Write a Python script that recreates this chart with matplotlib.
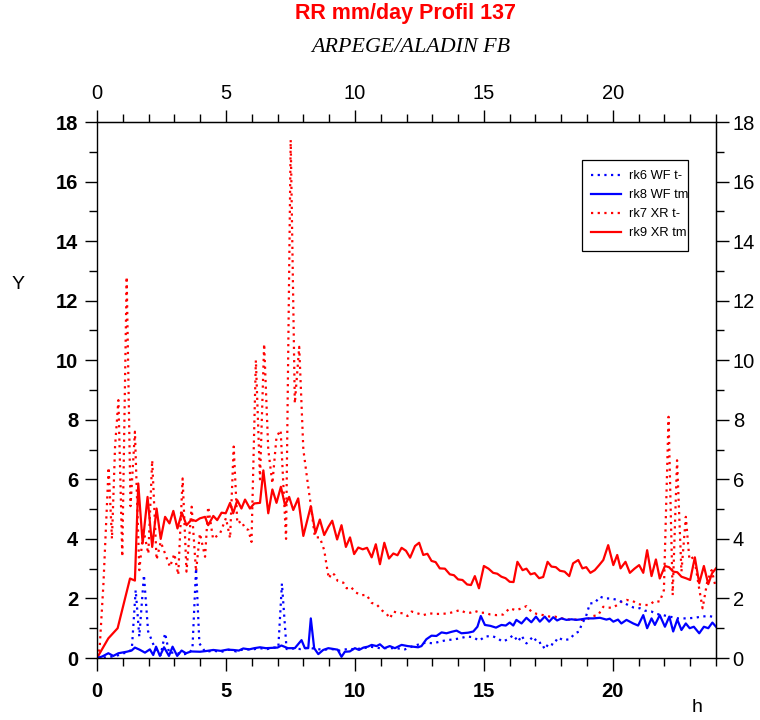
import matplotlib
matplotlib.use("Agg")
import matplotlib.pyplot as plt
from matplotlib.ticker import MultipleLocator
from matplotlib.lines import Line2D
from matplotlib.patches import Rectangle

# ---------------- data ----------------
title = "RR mm/day Profil 137"
subtitle = "ARPEGE/ALADIN FB"
x_label = "h"
y_label = "Y"
legend_labels = ["rk6 WF t-", "rk8 WF tm", "rk7 XR t-", "rk9 XR tm"]

# rk9 XR tm (red solid)
rk9_h = [0, 0.44, 0.8, 1.28, 1.47, 1.6, 1.77, 1.96, 2.14, 2.31,
         2.47, 2.64, 2.81, 2.96, 3.12, 3.29, 3.47, 3.67, 3.83, 3.99,
         4.19, 4.31, 4.51, 4.66, 4.83, 4.99, 5.16, 5.28, 5.44, 5.6,
         5.74, 5.93, 6.1, 6.32, 6.45, 6.64, 6.8, 6.96, 7.13, 7.29,
         7.45, 7.61, 7.8, 8.0, 8.29, 8.47, 8.64, 8.81, 8.97, 9.12,
         9.31, 9.48, 9.65, 9.81, 9.97, 10.13, 10.3, 10.47, 10.65, 10.81,
         10.97, 11.14, 11.32, 11.49, 11.65, 11.81, 11.98, 12.14, 12.33, 12.49,
         12.65, 12.81, 12.97, 13.13, 13.29, 13.49, 13.68, 13.84, 14.0, 14.17,
         14.35, 14.5, 14.65, 14.81, 15.0, 15.18, 15.36, 15.52, 15.68, 15.84,
         16.0, 16.15, 16.3, 16.5, 16.65, 16.81, 16.97, 17.14, 17.3, 17.47,
         17.62, 17.79, 17.95, 18.13, 18.31, 18.46, 18.66, 18.82, 18.97, 19.13,
         19.3, 19.47, 19.63, 19.82, 20.02, 20.17, 20.3, 20.49, 20.66, 20.84,
         21.02, 21.18, 21.33, 21.5, 21.67, 21.82, 22.02, 22.18, 22.34, 22.5,
         22.66, 22.83, 23.0, 23.18, 23.35, 23.53, 23.7, 23.85, 24.0]
rk9_v = [0, 0.66, 1.0, 2.67, 2.6, 5.86, 3.85, 5.41, 3.73, 5.02,
         4.0, 4.74, 4.52, 4.94, 4.35, 4.88, 4.46, 4.65, 4.6, 4.69,
         4.74, 4.46, 4.77, 4.63, 4.88, 4.86, 5.21, 4.86, 5.3, 5.02,
         5.32, 5.02, 5.19, 5.21, 6.3, 4.86, 5.66, 5.21, 5.75, 5.13,
         5.41, 4.97, 5.36, 4.1, 5.1, 4.2, 4.65, 4.13, 4.4, 4.61,
         3.98, 4.46, 3.73, 4.05, 3.49, 3.71, 3.65, 3.7, 3.38, 3.82,
         3.15, 3.87, 3.34, 3.51, 3.45, 3.7, 3.6, 3.37, 3.76, 3.87,
         3.46, 3.5, 3.26, 3.22, 3.01, 3.0, 2.81, 2.78, 2.64, 2.62,
         2.47, 2.45, 2.75, 2.34, 3.09, 3.0, 2.86, 2.83, 2.73, 2.68,
         2.56, 2.55, 3.23, 2.95, 3.0, 2.81, 2.85, 2.68, 2.72, 3.23,
         3.07, 3.05, 2.93, 2.9, 2.75, 3.18, 3.29, 3.01, 3.05, 2.86,
         2.95, 3.12, 3.29, 3.79, 3.12, 3.46, 3.01, 3.23, 2.86, 3.0,
         3.12, 2.86, 3.62, 2.75, 3.31, 2.67, 3.09, 3.05, 2.9, 2.88,
         2.73, 2.68, 2.62, 3.38, 2.51, 3.09, 2.48, 2.85, 3.01]

# rk7 XR t- (red dotted)
rk7_h = [0, 0.1, 0.25, 0.45, 0.58, 0.7, 0.83, 0.98, 1.15, 1.3,
         1.47, 1.64, 1.8, 1.99, 2.14, 2.31, 2.47, 2.64, 2.83, 3.0,
         3.15, 3.32, 3.47, 3.67, 3.84, 3.99, 4.19, 4.31, 4.5, 4.77,
         5.0, 5.16, 5.3, 5.44, 5.6, 5.74, 5.87, 5.99, 6.16, 6.32,
         6.48, 6.64, 6.8, 6.96, 7.12, 7.33, 7.51, 7.67, 7.84, 8.0,
         8.19, 8.29, 8.45, 8.64, 8.81, 8.9, 8.99, 9.1, 9.2, 9.33,
         9.55, 9.68, 9.84, 10.03, 10.26, 10.45, 10.65, 10.84, 11.06, 11.23,
         11.36, 11.49, 11.65, 11.87, 12.04, 12.2, 12.43, 12.65, 12.9, 13.1,
         13.35, 13.62, 13.85, 14.07, 14.3, 14.47, 14.65, 14.85, 15.04, 15.25,
         15.49, 15.75, 16.0, 16.25, 16.46, 16.65, 16.84, 17.05, 17.3, 17.56,
         17.75, 17.95, 18.14, 18.33, 18.59, 18.78, 18.98, 19.24, 19.43, 19.63,
         19.82, 20.0, 20.17, 20.33, 20.53, 20.76, 20.98, 21.18, 21.41, 21.63,
         21.82, 21.98, 22.16, 22.32, 22.49, 22.66, 22.83, 22.97, 23.15, 23.33,
         23.48, 23.66, 23.83, 24.0]
rk7_v = [0, 0.3, 2.5, 6.4, 4.0, 7.1, 8.66, 3.4, 12.8, 5.1,
         7.6, 2.95, 4.3, 3.5, 6.64, 3.3, 3.9, 3.5, 3.06, 3.5,
         2.79, 6.03, 2.9, 5.08, 2.9, 4.18, 3.4, 5.08, 4.0, 4.18,
         4.7, 4.02, 7.1, 4.52, 4.6, 4.35, 4.3, 3.9, 10.0, 6.0,
         10.55, 7.0, 5.86, 7.43, 7.65, 4.0, 17.4, 8.55, 10.45, 7.0,
         5.75, 5.13, 4.05, 4.05, 3.62, 3.12, 2.67, 2.86, 2.8, 2.59,
         2.53, 2.34, 2.39, 2.2, 2.11, 2.12, 1.85, 1.8, 1.59, 1.48,
         1.33, 1.56, 1.52, 1.5, 1.41, 1.56, 1.5, 1.44, 1.5, 1.48,
         1.48, 1.5, 1.55, 1.61, 1.52, 1.52, 1.58, 1.52, 1.52, 1.46,
         1.44, 1.46, 1.67, 1.6, 1.67, 1.74, 1.56, 1.48, 1.44, 1.39,
         1.39, 1.35, 1.31, 1.29, 1.29, 1.28, 1.29, 1.41, 1.44, 1.72,
         1.69, 1.69, 1.78, 1.89, 1.95, 1.92, 1.81, 1.78, 1.78, 1.92,
         1.89, 2.28, 8.1, 2.11, 6.64, 2.9, 4.74, 3.3, 3.4, 2.42,
         1.67, 2.56, 2.95, 2.34]

# rk8 WF tm (blue solid)
rk8_h = [0, 0.2, 0.44, 0.63, 0.83, 1.15, 1.34, 1.47, 1.65, 1.86,
         2.05, 2.18, 2.29, 2.44, 2.6, 2.79, 2.93, 3.11, 3.28, 3.45,
         3.65, 3.99, 4.2, 4.51, 4.8, 5.05, 5.28, 5.5, 5.67, 5.9,
         6.1, 6.32, 6.55, 6.8, 7.0, 7.15, 7.4, 7.67, 7.93, 8.06,
         8.19, 8.29, 8.42, 8.58, 8.77, 8.97, 9.2, 9.33, 9.48, 9.61,
         9.8, 10.0, 10.16, 10.33, 10.5, 10.65, 10.84, 10.97, 11.14, 11.35,
         11.55, 11.81, 12.05, 12.26, 12.45, 12.58, 12.77, 12.97, 13.16, 13.36,
         13.55, 13.75, 13.94, 14.13, 14.39, 14.59, 14.75, 14.88, 15.04, 15.25,
         15.47, 15.68, 15.85, 16.0, 16.14, 16.26, 16.46, 16.65, 16.84, 17.02,
         17.17, 17.36, 17.53, 17.69, 17.84, 18.01, 18.2, 18.4, 18.59, 18.78,
         18.98, 19.24, 19.5, 19.75, 19.88, 20.02, 20.2, 20.33, 20.53, 20.79,
         20.98, 21.18, 21.33, 21.5, 21.63, 21.82, 22.02, 22.19, 22.34, 22.5,
         22.66, 22.83, 22.98, 23.14, 23.35, 23.53, 23.7, 23.86, 24.0]
rk8_v = [0, 0.05, 0.16, 0.07, 0.16, 0.21, 0.25, 0.35, 0.28, 0.18,
         0.29, 0.1, 0.38, 0.07, 0.36, 0.07, 0.38, 0.07, 0.25, 0.16,
         0.22, 0.21, 0.23, 0.27, 0.24, 0.28, 0.27, 0.25, 0.32, 0.29,
         0.33, 0.36, 0.33, 0.34, 0.35, 0.42, 0.33, 0.33, 0.6, 0.33,
         0.33, 1.33, 0.33, 0.13, 0.27, 0.33, 0.3, 0.28, 0.04, 0.21,
         0.22, 0.33, 0.27, 0.35, 0.38, 0.44, 0.4, 0.46, 0.33, 0.4,
         0.33, 0.44, 0.4, 0.38, 0.36, 0.4, 0.63, 0.75, 0.74, 0.86,
         0.83, 0.88, 0.92, 0.83, 0.85, 0.89, 1.05, 1.41, 1.11, 1.08,
         1.02, 1.11, 1.09, 1.19, 1.09, 1.28, 1.16, 1.35, 1.2, 1.39,
         1.22, 1.39, 1.22, 1.37, 1.26, 1.33, 1.28, 1.3, 1.28, 1.3,
         1.33, 1.33, 1.35, 1.29, 1.32, 1.22, 1.29, 1.16, 1.28, 1.16,
         1.09, 1.44, 1.0, 1.33, 1.11, 1.44, 1.05, 1.39, 0.89, 1.29,
         0.94, 1.16, 1.0, 1.05, 0.83, 1.05, 1.0, 1.19, 1.05]

# rk6 WF t- (blue dotted)
rk6_h = [0, 0.3, 0.6, 0.85, 1.02, 1.2, 1.35, 1.5, 1.64, 1.82,
         1.98, 2.12, 2.3, 2.47, 2.64, 2.8, 3.0, 3.3, 3.55, 3.7,
         3.84, 3.97, 4.2, 4.5, 4.8, 5.1, 5.4, 5.7, 6.0, 6.3,
         6.6, 6.85, 7.03, 7.17, 7.35, 7.6, 7.9, 8.2, 8.5, 8.8,
         9.1, 9.4, 9.7, 10.0, 10.3, 10.6, 10.97, 11.3, 11.6, 11.94,
         12.2, 12.49, 12.77, 13.03, 13.29, 13.55, 13.8, 14.07, 14.33, 14.58,
         14.82, 15.04, 15.3, 15.5, 15.72, 15.94, 16.14, 16.33, 16.46, 16.65,
         16.91, 17.1, 17.23, 17.36, 17.52, 17.69, 17.88, 18.07, 18.33, 18.53,
         18.7, 18.78, 18.95, 19.11, 19.3, 19.5, 19.69, 19.9, 20.14, 20.33,
         20.59, 20.79, 21.05, 21.24, 21.5, 21.69, 21.94, 22.2, 22.53, 22.85,
         23.18, 23.43, 23.7, 24.0]
rk6_v = [0, 0.02, 0.05, 0.1, 0.16, 0.18, 0.3, 2.28, 0.72, 2.79,
         0.9, 0.6, 0.2, 0.1, 0.83, 0.15, 0.2, 0.12, 0.15, 0.3,
         3.01, 0.49, 0.2, 0.25, 0.2, 0.28, 0.22, 0.3, 0.28, 0.33,
         0.3, 0.35, 0.35, 2.5, 0.3, 0.32, 0.3, 0.35, 0.3, 0.28,
         0.3, 0.25, 0.3, 0.3, 0.32, 0.38, 0.33, 0.33, 0.33, 0.29,
         0.38, 0.46, 0.52, 0.49, 0.55, 0.6, 0.62, 0.66, 0.72, 0.7,
         0.58, 0.72, 0.74, 0.68, 0.55, 0.63, 0.77, 0.55, 0.75, 0.49,
         0.72, 0.49, 0.52, 0.29, 0.5, 0.44, 0.69, 0.6, 0.63, 0.83,
         0.89, 1.11, 1.37, 1.83, 1.85, 2.06, 2.0, 2.0, 1.96, 1.89,
         1.78, 1.7, 1.67, 1.59, 1.56, 1.48, 1.44, 1.39, 1.33, 1.33,
         1.35, 1.39, 1.41, 1.37]

x_ticks = [0, 5, 10, 15, 20]
y_ticks = [0, 2, 4, 6, 8, 10, 12, 14, 16, 18]

# ---------------- figure ----------------
RED = "#ff0000"
BLUE = "#0000ff"
DOT = (0, (1, 2))

W, H = 760, 720
fig = plt.figure(figsize=(7.6, 7.2), dpi=100)
ax = fig.add_axes([97 / W, 62 / H, 619 / W, 536 / H])

lw = 1.6
ax.plot(rk7_h, rk7_v, color=RED, lw=lw, linestyle=DOT)
ax.plot(rk9_h, rk9_v, color=RED, lw=lw, linestyle="-")
ax.plot(rk6_h, rk6_v, color=BLUE, lw=lw, linestyle=DOT)
ax.plot(rk8_h, rk8_v, color=BLUE, lw=lw, linestyle="-")

ax.set_xlim(0, 24)
ax.set_ylim(0, 18)

sans = ["Liberation Sans", "DejaVu Sans"]
tick_fs = 14.5

ax.set_xticks(x_ticks)
ax.set_yticks(y_ticks)
ax.xaxis.set_minor_locator(MultipleLocator(1))
ax.yaxis.set_minor_locator(MultipleLocator(1))
ax.tick_params(axis="both", which="major", direction="out", length=9, width=1,
               labelsize=tick_fs)
ax.tick_params(axis="x", which="major", pad=8)
ax.tick_params(axis="y", which="major", pad=4.5)
ax.tick_params(axis="both", which="minor", direction="out", length=6, width=1)
for lab in ax.get_xticklabels() + ax.get_yticklabels():
    lab.set_fontweight("bold")
    lab.set_family(sans)

secx = ax.secondary_xaxis("top")
secx.set_xticks(x_ticks)
secx.xaxis.set_minor_locator(MultipleLocator(1))
secx.tick_params(which="major", direction="out", length=9, width=1,
                 labelsize=tick_fs, pad=4.5)
secx.tick_params(which="minor", direction="out", length=6, width=1)
for lab in secx.get_xticklabels():
    lab.set_family(sans)

secy = ax.secondary_yaxis("right")
secy.set_yticks(y_ticks)
secy.yaxis.set_minor_locator(MultipleLocator(1))
secy.tick_params(which="major", direction="out", length=9, width=1,
                 labelsize=tick_fs, pad=3)
secy.tick_params(which="minor", direction="out", length=6, width=1)
for lab in secy.get_yticklabels():
    lab.set_family(sans)

for sp in ax.spines.values():
    sp.set_linewidth(1)

# titles and axis labels
fig.text(405 / W, 1 - 14 / H, title, color=RED, fontsize=15.5, fontweight="bold",
         family=sans, ha="center", va="center")
fig.text(411 / W, 1 - 48 / H, subtitle, fontsize=15.8, style="italic",
         family=["Liberation Serif", "DejaVu Serif"], ha="center", va="center")
fig.text(18 / W, 1 - 285 / H, y_label, fontsize=14, family=sans,
         ha="center", va="center")
fig.text(697 / W, 1 - 707 / H, x_label, fontsize=14, family=sans,
         ha="center", va="center")

# legend (box drawn separately so the labels can touch its right edge)
fig.add_artist(Rectangle((582 / W, 1 - 251 / H), (688 - 582) / W, (251 - 160) / H,
                         transform=fig.transFigure, facecolor="white",
                         edgecolor="black", linewidth=0.9, zorder=5))
handles = [Line2D([], [], color=BLUE, lw=lw, linestyle=DOT),
           Line2D([], [], color=BLUE, lw=lw, linestyle="-"),
           Line2D([], [], color=RED, lw=lw, linestyle=DOT),
           Line2D([], [], color=RED, lw=lw, linestyle="-")]
leg = fig.legend(handles, legend_labels, loc="upper left",
                 bbox_to_anchor=(591 / W, 1 - 170 / H),
                 prop={"family": sans, "size": 9.3}, frameon=False,
                 handlelength=2.35, handletextpad=0.6,
                 labelspacing=0.55, borderpad=0, borderaxespad=0)
leg.set_zorder(6)

fig.savefig("out.png", dpi=100)
